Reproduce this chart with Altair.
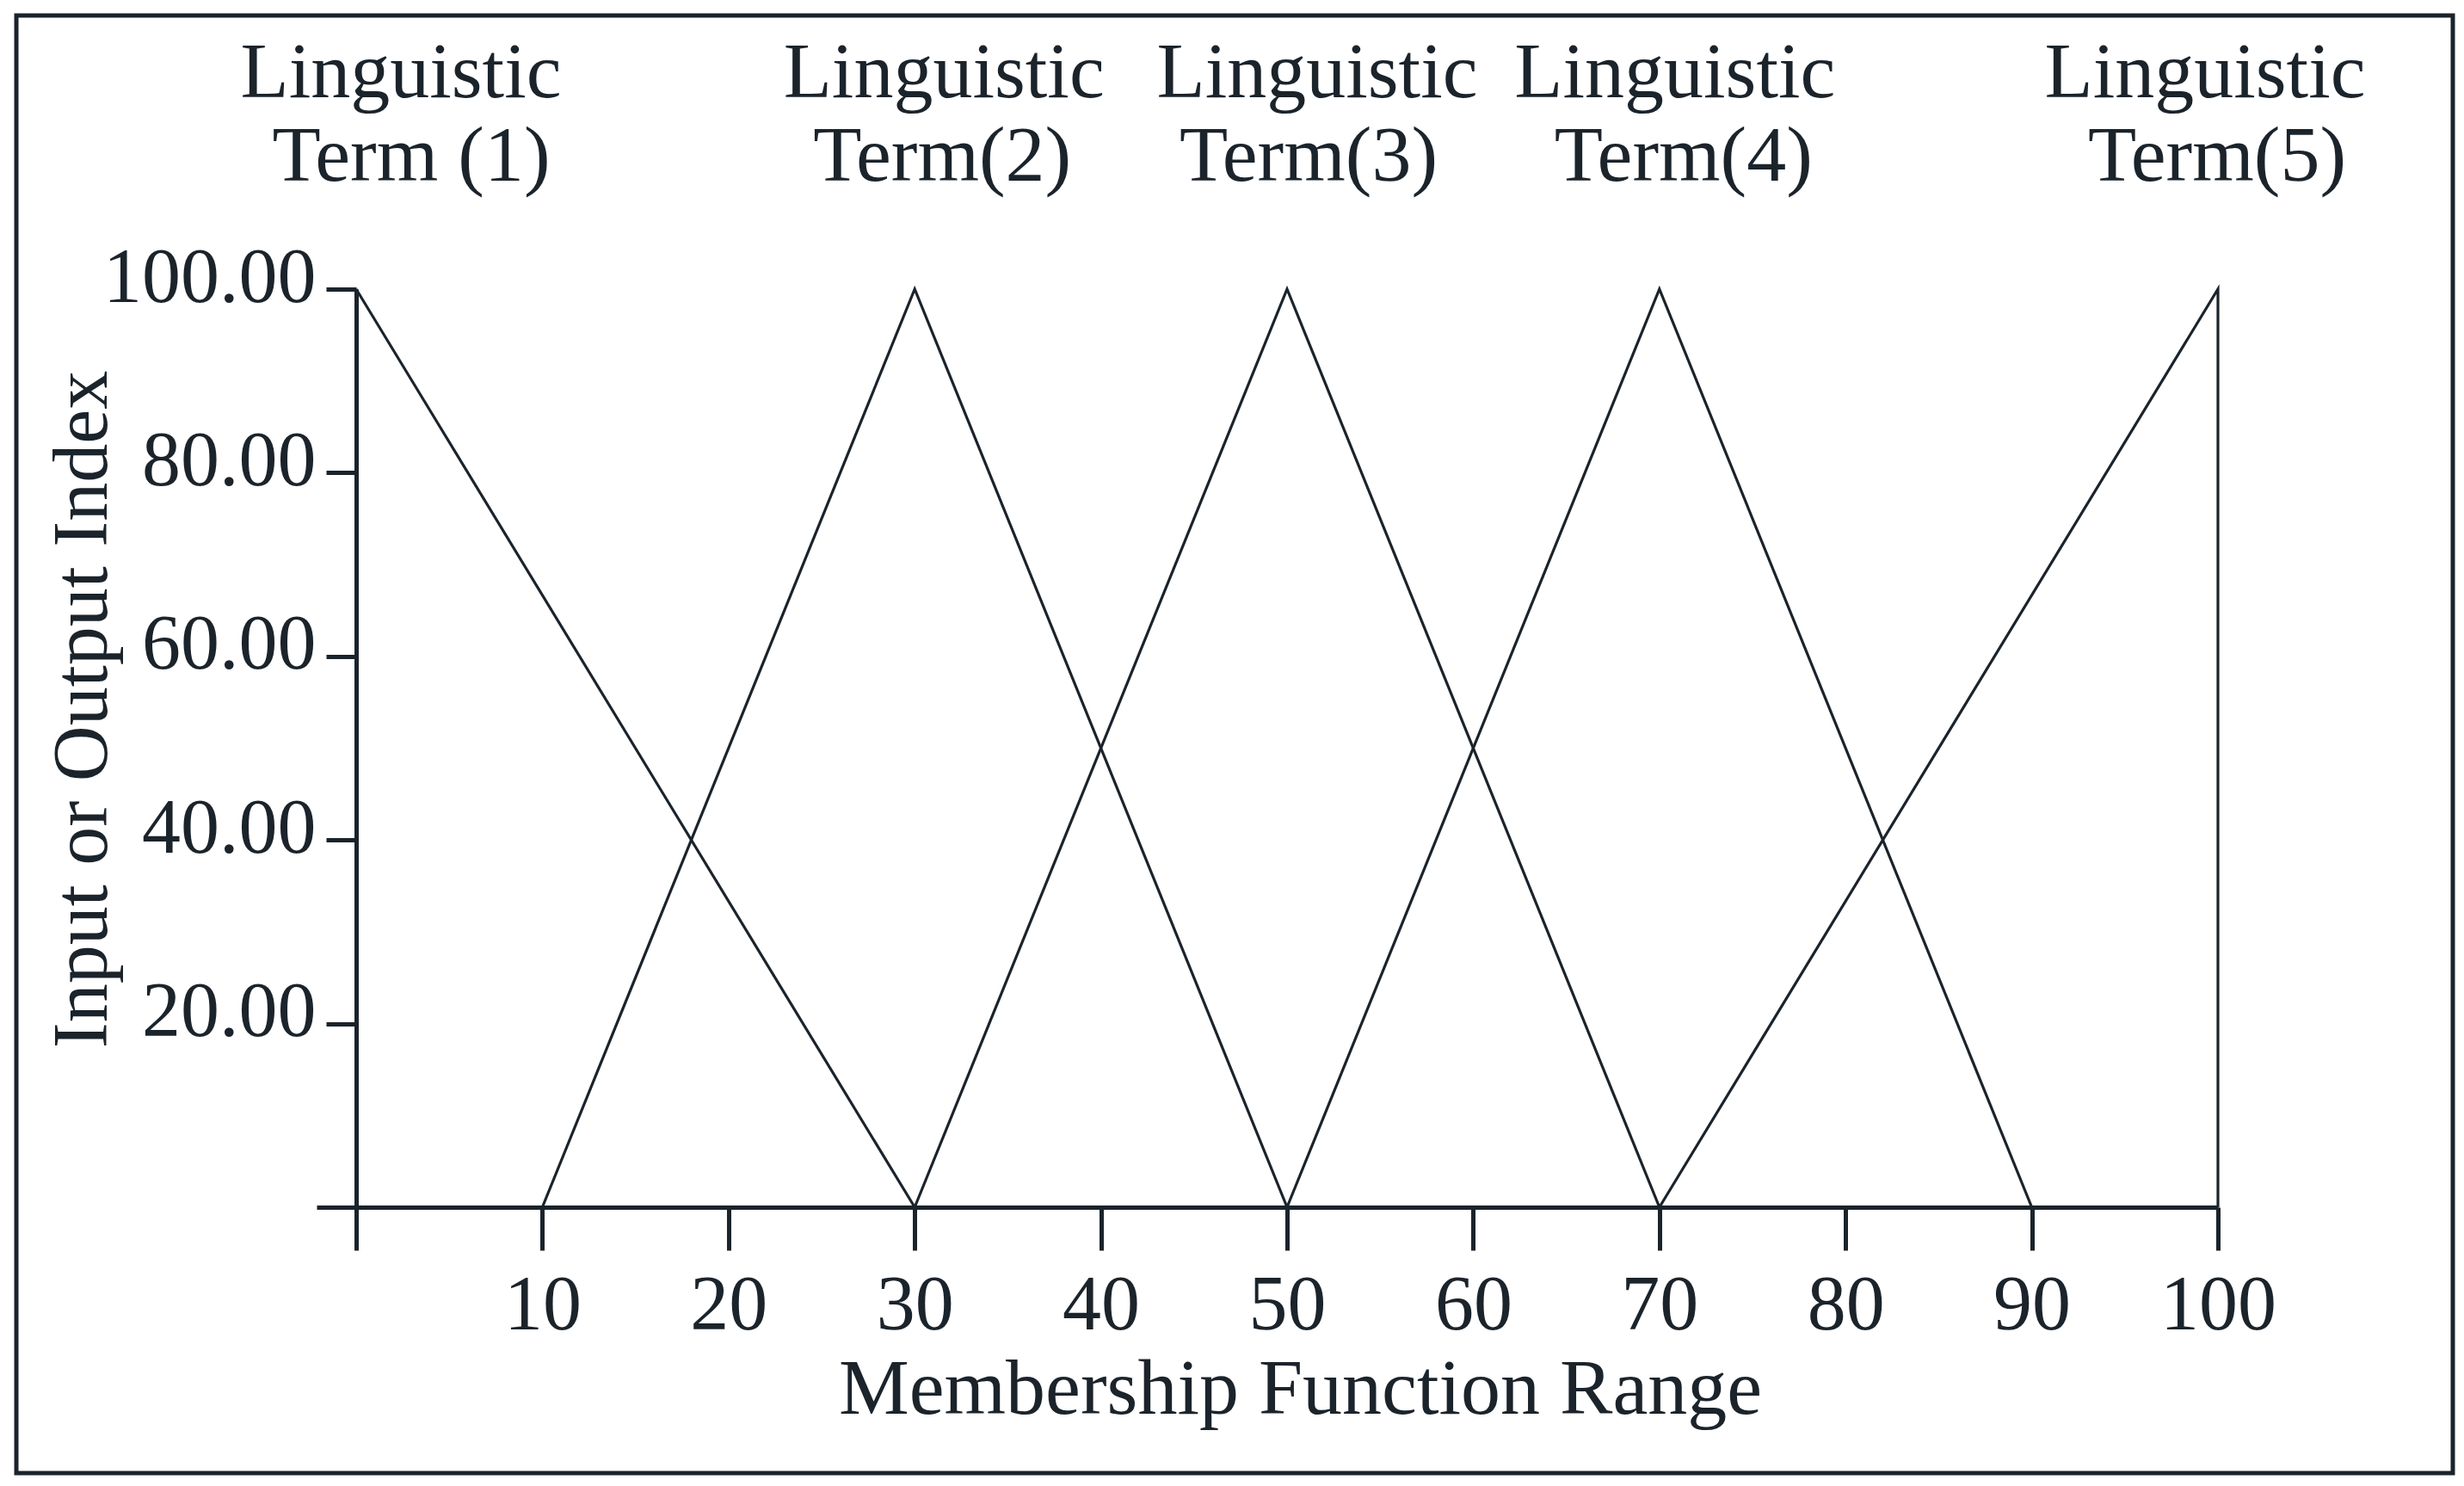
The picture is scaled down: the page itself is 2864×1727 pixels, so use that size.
import altair as alt
import pandas as pd

# ---- data ----
term_names = ["Term (1)", "Term(2)", "Term(3)", "Term(4)", "Term(5)"]
term_heading = "Linguistic"
term_peaks = [0, 30, 50, 70, 100]
term_x = [[0, 30], [10, 30, 50], [30, 50, 70], [50, 70, 90], [70, 100, 100]]
term_y = [[100, 0], [0, 100, 0], [0, 100, 0], [0, 100, 0], [0, 100, 0]]
x_ticks = [0, 10, 20, 30, 40, 50, 60, 70, 80, 90, 100]
y_ticks = [0, 20, 40, 60, 80, 100]
x_title = "Membership Function Range"
y_title = "Input or Output Index"

INK = "#1b232b"
FONT = "Liberation Serif"

rows = []
for name, xs, ys in zip(term_names, term_x, term_y):
    for i, (xv, yv) in enumerate(zip(xs, ys)):
        rows.append({"term": name, "idx": i, "x": xv, "y": yv})
lines_df = pd.DataFrame(rows)

W, H = 2164, 1067

xscale = alt.Scale(domain=[0, 100], nice=False, zero=False)
yscale = alt.Scale(domain=[0, 100], nice=False, zero=False)

lines = alt.Chart(lines_df).mark_line(color=INK, strokeWidth=3.2).encode(
    x=alt.X("x:Q", scale=xscale, axis=alt.Axis(
        values=x_ticks, labelExpr="datum.value == 0 ? '' : datum.label",
        tickSize=50, tickWidth=5, tickColor=INK, domainWidth=5, domainColor=INK,
        labelFontSize=90, labelFont=FONT, labelColor=INK, labelPadding=91,
        labelBaseline="alphabetic", labelFlush=False, labelOverlap=False,
        labelLimit=1000, grid=False,
        title=x_title, titleFont=FONT, titleFontSize=92, titleFontWeight="normal",
        titleColor=INK, titleX=1097, titleY=239, titleBaseline="alphabetic",
        titleAlign="center", titleLimit=3000)),
    y=alt.Y("y:Q", scale=yscale, axis=alt.Axis(
        values=y_ticks, format=".2f",
        labelExpr="datum.value == 0 ? '' : datum.label",
        tickSize={"condition": {"test": "datum.value == 0", "value": 46}, "value": 35},
        tickWidth=5, tickColor=INK, domainWidth=5, domainColor=INK,
        labelFontSize=90, labelFont=FONT, labelColor=INK, labelPadding=12,
        labelOffset=14, labelBaseline="alphabetic", labelFlush=False,
        labelOverlap=False, labelLimit=1000, grid=False,
        title=y_title, titleFont=FONT, titleFontSize=90, titleFontWeight="normal",
        titleColor=INK, titleX=-291, titleY=488, titleAngle=270,
        titleBaseline="alphabetic", titleAlign="center", titleLimit=3000)),
    detail="term:N",
    order="idx:Q",
)

# term labels above each peak
line1_dx = [52, 34, 35, 18, -15]
line2_dx = [64, 32, 25, 28, -1]
label_layers = []
for name, peak, d1, d2 in zip(term_names, term_peaks, line1_dx, line2_dx):
    df = pd.DataFrame({"x": [peak], "y": [100], "l1": [term_heading], "l2": [name]})
    base = alt.Chart(df)
    label_layers.append(base.mark_text(font=FONT, fontSize=92, color=INK, align="center",
                                       baseline="alphabetic", dx=d1, dy=-223).encode(
        x=alt.X("x:Q", scale=xscale), y=alt.Y("y:Q", scale=yscale), text="l1:N"))
    label_layers.append(base.mark_text(font=FONT, fontSize=92, color=INK, align="center",
                                       baseline="alphabetic", dx=d2, dy=-126).encode(
        x=alt.X("x:Q", scale=xscale), y=alt.Y("y:Q", scale=yscale), text="l2:N"))

frame = alt.Chart(pd.DataFrame({"a": [0]})).mark_rect(
    fill="transparent", stroke=INK, strokeWidth=5).encode(
    x=alt.value(-395), x2=alt.value(2437), y=alt.value(-318), y2=alt.value(1376))

chart = alt.layer(lines, frame, *label_layers).properties(
    width=W, height=H, background="white",
    autosize=alt.AutoSizeParams(type="none"),
    padding={"left": 406, "top": 328, "right": 276, "bottom": 314},
).configure_view(stroke="transparent", strokeWidth=0).configure_axis(grid=False)

chart.save("out.html", embed_options={"renderer": "svg", "actions": False})
